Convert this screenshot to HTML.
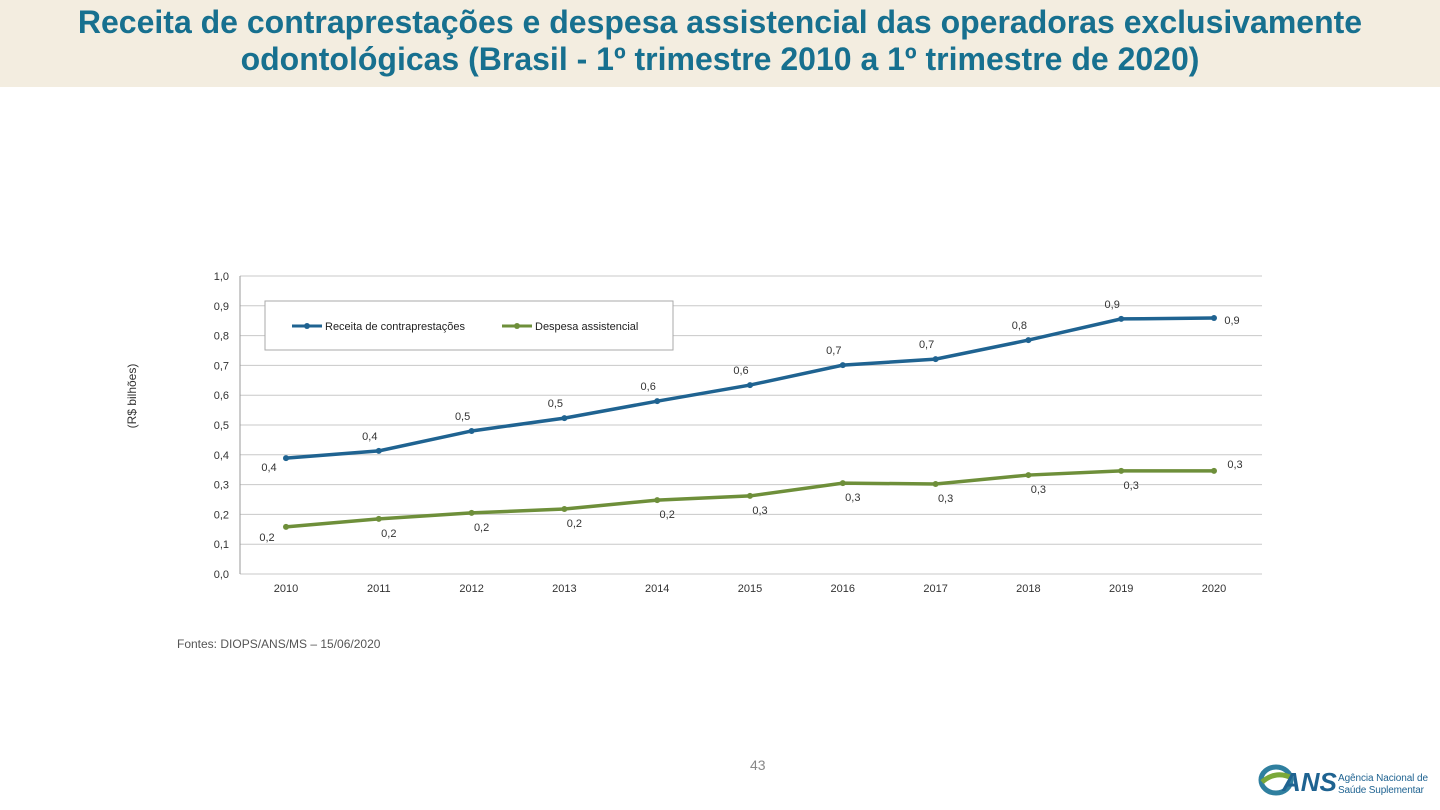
<!DOCTYPE html>
<html><head><meta charset="utf-8"><style>
body{margin:0;width:1440px;height:810px;background:#fff;overflow:hidden;font-family:"Liberation Sans",sans-serif;position:relative}
#title{position:absolute;left:0;top:0;width:1440px;height:87px;background:#f3ede0;color:#17708f;font-size:32px;text-align:center;line-height:37px;padding-top:4px;box-sizing:border-box;font-weight:bold;white-space:nowrap}
#src{position:absolute;left:177px;top:637px;font-size:12px;color:#555}
#pg{position:absolute;left:750px;top:757px;font-size:14px;color:#888}
#logo{position:absolute;left:1258px;top:760px}
</style></head><body>
<div id="title">Receita de contraprestações e despesa assistencial das operadoras exclusivamente<br>odontológicas (Brasil - 1º trimestre 2010 a 1º trimestre de 2020)</div>
<svg id="chart" width="1440" height="810" style="position:absolute;left:0;top:0"></svg>
<div id="src">Fontes: DIOPS/ANS/MS – 15/06/2020</div>
<div id="pg">43</div>
<svg id="logo" width="180" height="40">
<ellipse cx="18" cy="20" rx="15" ry="13" fill="none" stroke="#2f7f9f" stroke-width="5"/>
<path d="M4 22 Q18 10 34 18" stroke="#7aa83a" stroke-width="5" fill="none"/>
<text x="24" y="31" font-family="Liberation Sans" font-weight="bold" font-size="26" fill="#1f6391" font-style="italic">ANS</text>
<text x="80" y="21" font-family="Liberation Sans" font-size="10" fill="#1f6391" textLength="90">Agência Nacional de</text>
<text x="80" y="33" font-family="Liberation Sans" font-size="10" fill="#1f6391" textLength="86">Saúde Suplementar</text>
</svg>
<script>
const years=["2010","2011","2012","2013","2014","2015","2016","2017","2018","2019","2020"];
const receita=[0.389,0.413,0.48,0.523,0.58,0.634,0.701,0.721,0.785,0.856,0.859];
const despesa=[0.158,0.185,0.205,0.218,0.248,0.262,0.305,0.302,0.332,0.346,0.346];
const receitaLabels=["0,4","0,4","0,5","0,5","0,6","0,6","0,7","0,7","0,8","0,9","0,9"];
const despesaLabels=["0,2","0,2","0,2","0,2","0,2","0,3","0,3","0,3","0,3","0,3","0,3"];
const yTicks=[0,0.1,0.2,0.3,0.4,0.5,0.6,0.7,0.8,0.9,1.0];
const NS="http://www.w3.org/2000/svg";
const svg=document.getElementById('chart');
const x=i=>286+i*92.8;
const y=v=>574-v*298;
function mk(t,a,p){const e=document.createElementNS(NS,t);for(const k in a)e.setAttribute(k,a[k]);(p||svg).appendChild(e);return e;}
yTicks.forEach(t=>{
 const g=mk('line',{x1:240,x2:1262,y1:y(t),y2:y(t),stroke:'#c8c8c8','stroke-width':1});
 
 
 const l=mk('text',{x:229,y:y(t)+4,'text-anchor':'end','font-size':11,fill:'#333'});
 l.textContent=t.toFixed(1).replace('.',',');
 
 
});
mk('line',{x1:240,x2:240,y1:276,y2:574,stroke:'#999'});
years.forEach((yr,i)=>{
 const l=mk('text',{x:x(i),y:592,'text-anchor':'middle','font-size':11,fill:'#333'});
 l.textContent=yr;
 
 
});
const yt=mk('text',{x:0,y:0,transform:'translate(136,396) rotate(-90)','text-anchor':'middle','font-size':12,fill:'#333'});
yt.textContent='(R$ bilhões)';


function series(vals,labels,color,name,above){
 const p=mk('polyline',{points:vals.map((v,i)=>x(i)+','+y(v)).join(' '),fill:'none',stroke:color,'stroke-width':3.5});
 
 
 vals.forEach((v,i)=>{
  const m=mk('circle',{cx:x(i),cy:y(v),r:3,fill:color});
  
  
  let dx,dy;
  if(above){dx=-9;dy=-11;if(i==0){dx=-17;dy=13;}if(i==vals.length-1){dx=18;dy=6;}}
  else{dx=10;dy=18;if(i==0){dx=-19;dy=14;}if(i==vals.length-1){dx=21;dy=-3;}}
  const t=mk('text',{x:x(i)+dx,y:y(v)+dy,'text-anchor':'middle','font-size':11,fill:'#333'});
  t.textContent=labels[i];
  
  
 });
}
series(receita,receitaLabels,'#1f6391','receita',true);
series(despesa,despesaLabels,'#6e8f3a','despesa',false);
const lg=mk('rect',{x:265,y:301,width:408,height:49,fill:'#fff',stroke:'#aaa'});


[['Receita de contraprestações','#1f6391',292],['Despesa assistencial','#6e8f3a',502]].forEach(([n,c,lx])=>{
 mk('line',{x1:lx,x2:lx+30,y1:326,y2:326,stroke:c,'stroke-width':3});
 mk('circle',{cx:lx+15,cy:326,r:3,fill:c});
 const t=mk('text',{x:lx+33,y:330,'font-size':11,fill:'#222'});
 t.textContent=n;
 
 
});
</script>
</body></html>
